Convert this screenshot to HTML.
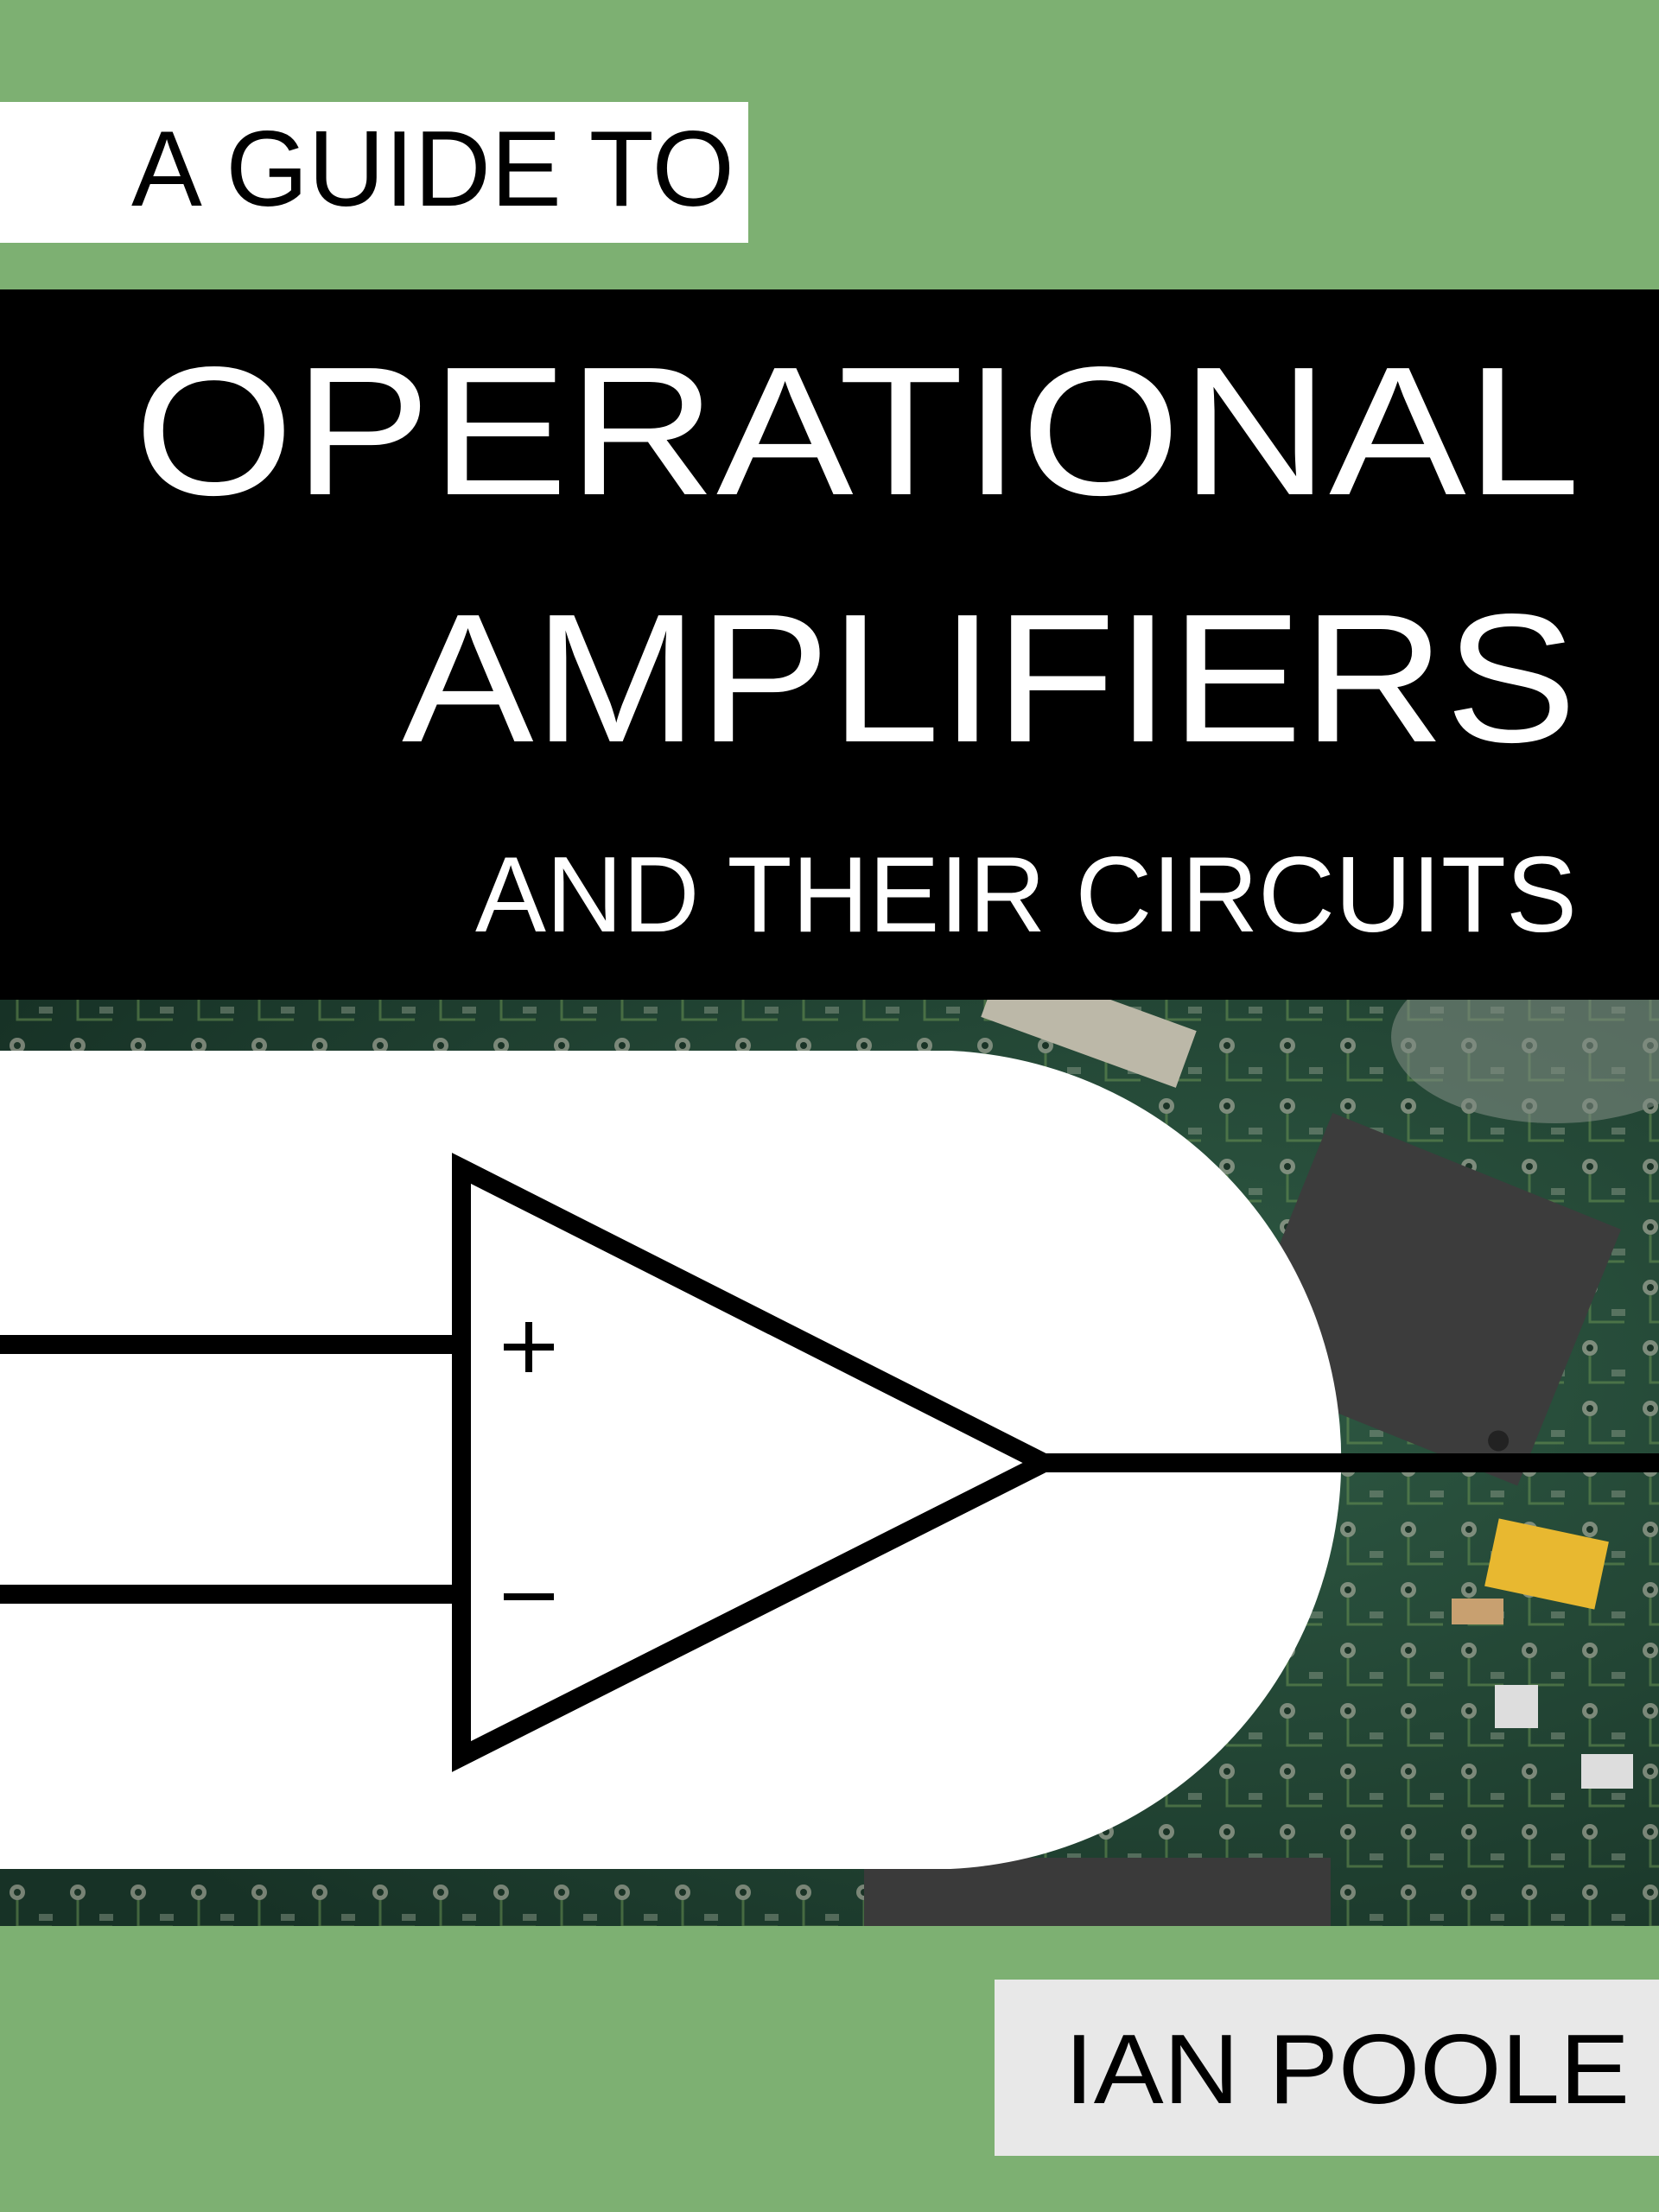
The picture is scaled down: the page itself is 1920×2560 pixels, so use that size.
<!DOCTYPE html>
<html><head><meta charset="utf-8"><style>
html,body{margin:0;padding:0;width:1920px;height:2560px;overflow:hidden;background:#7db072}
svg{display:block}
text{font-family:"Liberation Sans",sans-serif}
</style></head><body>
<svg width="1920" height="2560" viewBox="0 0 1920 2560" xmlns="http://www.w3.org/2000/svg">
<defs>
<radialGradient id="pcb" cx="0.7" cy="0.4" r="0.8">
<stop offset="0" stop-color="#2f5a44"/><stop offset="1" stop-color="#173226"/>
</radialGradient>
<pattern id="dots" width="70" height="70" patternUnits="userSpaceOnUse">
<circle cx="20" cy="20" r="9" fill="#b8b8a8" opacity="0.6"/>
<circle cx="20" cy="20" r="4" fill="#1a3326"/>
<rect x="45" y="45" width="16" height="8" fill="#8a9a88" opacity="0.5"/>
<path d="M20 29 L20 60 L60 60" stroke="#6f9a55" stroke-width="3" fill="none" opacity="0.5"/>
</pattern>
<clipPath id="pc"><rect x="0" y="1157" width="1920" height="1072"/></clipPath>
</defs>
<rect width="1920" height="2560" fill="#7db072"/>
<rect x="0" y="118" width="866" height="163" fill="#fff"/>
<text x="152" y="238" font-size="124" fill="#000" textLength="698" lengthAdjust="spacingAndGlyphs">A GUIDE TO</text>
<rect x="0" y="335" width="1920" height="822" fill="#000"/>
<text x="155" y="572" font-size="212" fill="#fff" textLength="1674" lengthAdjust="spacingAndGlyphs">OPERATIONAL</text>
<text x="465" y="858" font-size="212" fill="#fff" textLength="1360" lengthAdjust="spacingAndGlyphs">AMPLIFIERS</text>
<text x="550" y="1078" font-size="124" fill="#fff" textLength="1275" lengthAdjust="spacingAndGlyphs">AND THEIR CIRCUITS</text>
<g clip-path="url(#pc)">
<rect x="0" y="1157" width="1920" height="1072" fill="url(#pcb)"/>
<rect x="0" y="1157" width="1920" height="1072" fill="url(#dots)"/>
<ellipse cx="1800" cy="1200" rx="190" ry="100" fill="#7d8a80" opacity="0.6"/>
<rect x="1140" y="1150" width="240" height="70" fill="#bcb8a8" transform="rotate(20 1260 1185)"/>
<g transform="rotate(22 1640 1500)">
<rect x="1470" y="1340" width="360" height="320" fill="#3c3c3c"/>
<circle cx="1790" cy="1620" r="12" fill="#222"/>
</g>
<rect x="1725" y="1770" width="130" height="80" fill="#e8b830" transform="rotate(12 1790 1810)"/>
<rect x="1680" y="1850" width="60" height="30" fill="#c8a070"/>
<rect x="1730" y="1950" width="50" height="50" fill="#ddd"/>
<rect x="1830" y="2030" width="60" height="40" fill="#ddd"/>
<rect x="1000" y="2150" width="540" height="90" fill="#3a3a3a"/>
</g>
<path d="M0 1216 L1100 1216 A474 474 0 0 1 1100 2163 L0 2163 Z" fill="#fff"/>
<g stroke="#000" stroke-width="22" fill="none" stroke-linejoin="miter">
<path d="M534 1352 L1208 1693 L534 2033 Z"/>
<line x1="0" y1="1556" x2="534" y2="1556"/>
<line x1="0" y1="1845" x2="534" y2="1845"/>
<line x1="1208" y1="1693" x2="1920" y2="1693"/>
<line x1="583" y1="1559" x2="641" y2="1559" stroke-width="8"/>
<line x1="612" y1="1530" x2="612" y2="1588" stroke-width="8"/>
<line x1="583" y1="1848" x2="641" y2="1848" stroke-width="8"/>
</g>
<rect x="1151" y="2291" width="769" height="204" fill="#e8e8e8"/>
<text x="1232" y="2434" font-size="114" fill="#000" textLength="654" lengthAdjust="spacingAndGlyphs">IAN POOLE</text>
</svg>
</body></html>
